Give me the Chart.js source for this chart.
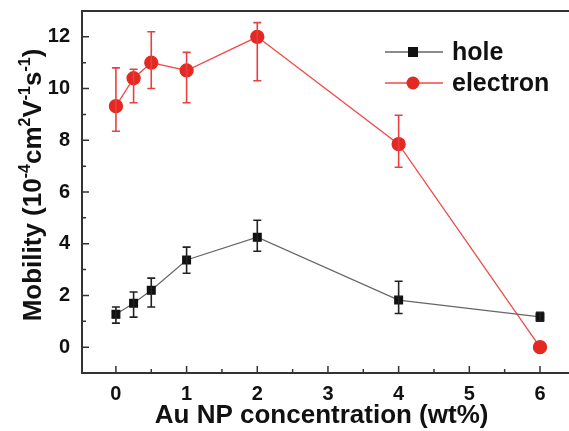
<!DOCTYPE html>
<html>
<head>
<meta charset="utf-8">
<script src="https://cdn.jsdelivr.net/npm/chart.js@4"></script>
<style>
  html, body { margin: 0; padding: 0; background: #fff; }
  #wrap { width: 569px; height: 431px; }
</style>
</head>
<body>
<div id="wrap"><canvas id="chart" width="569" height="431"></canvas></div>
<script>
// Au NP concentration (wt%)
const conc = [0, 0.25, 0.5, 1, 2, 4, 6];

const holeMobility = [1.27, 1.7, 2.2, 3.37, 4.25, 1.82, 1.17];
const holeHigh = [1.55, 2.13, 2.67, 3.87, 4.91, 2.55, 1.35];
const holeLow = [0.93, 1.16, 1.55, 2.86, 3.71, 1.3, 1.0];

const electronMobility = [9.32, 10.4, 11.0, 10.7, 12.0, 7.85, 0];
const electronHigh = [10.8, 10.75, 12.2, 11.4, 12.55, 8.97, 0];
const electronLow = [8.35, 9.45, 10.0, 9.45, 10.3, 6.96, 0];

const xTicks = [0, 1, 2, 3, 4, 5, 6];
const yTicks = [0, 2, 4, 6, 8, 10, 12];

// y title pieces: [text, superscript?]
const yTitle = [["Mobility (10", 0], ["-4", 1], ["cm", 0], ["2", 1], ["V", 0], ["-1", 1], ["s", 0], ["-1", 1], [")", 0]];

const FONT = "'Liberation Sans', Arial, sans-serif";

function points(ys) {
  return conc.map((x, i) => ({ x: x, y: ys[i] }));
}

const errorBars = {
  id: "errorBars",
  afterDatasetsDraw(chart) {
    const ctx = chart.ctx;
    const ys = chart.scales.y;
    const ranges = [[holeLow, holeHigh], [electronLow, electronHigh]];
    chart.data.datasets.forEach((ds, di) => {
      const meta = chart.getDatasetMeta(di);
      ctx.save();
      ctx.strokeStyle = ds.errorColor;
      ctx.lineWidth = 1.6;
      meta.data.forEach((pt, i) => {
        const lo = ranges[di][0][i], hi = ranges[di][1][i];
        if (hi === lo) return;
        const y1 = ys.getPixelForValue(hi), y2 = ys.getPixelForValue(lo);
        ctx.beginPath();
        ctx.moveTo(pt.x, y1); ctx.lineTo(pt.x, y2);
        ctx.moveTo(pt.x - 4, y1); ctx.lineTo(pt.x + 4, y1);
        ctx.moveTo(pt.x - 4, y2); ctx.lineTo(pt.x + 4, y2);
        ctx.stroke();
      });
      ctx.restore();
    });
  }
};

const frame = {
  id: "frame",
  afterDraw(chart) {
    const ctx = chart.ctx;
    const a = chart.chartArea;
    const xs = chart.scales.x, ys = chart.scales.y;
    ctx.save();
    ctx.strokeStyle = "#333";
    ctx.lineWidth = 2;
    ctx.strokeRect(a.left, a.top, a.right - a.left + 10, a.bottom - a.top);
    ctx.lineWidth = 1.5;
    ctx.beginPath();
    for (let v = 0; v <= 6; v += 0.5) {
      const px = xs.getPixelForValue(v);
      const len = Number.isInteger(v) ? 7 : 4;
      ctx.moveTo(px, a.bottom); ctx.lineTo(px, a.bottom - len);
    }
    for (let v = 0; v <= 12; v += 1) {
      const py = ys.getPixelForValue(v);
      const len = v % 2 === 0 ? 7 : 4;
      ctx.moveTo(a.left, py); ctx.lineTo(a.left + len, py);
    }
    ctx.stroke();

    // legend
    ctx.font = "bold 25px " + FONT;
    ctx.textBaseline = "middle";
    chart.data.datasets.forEach((ds, i) => {
      const y = 52 + i * 31;
      ctx.strokeStyle = ds.borderColor;
      ctx.lineWidth = 1.3;
      ctx.beginPath();
      ctx.moveTo(385, y); ctx.lineTo(443, y);
      ctx.stroke();
      ctx.fillStyle = ds.pointBackgroundColor;
      if (ds.pointStyle === "rect") {
        ctx.fillRect(408, y - 5, 10, 10);
      } else {
        ctx.beginPath();
        ctx.arc(413, y, 6.5, 0, Math.PI * 2);
        ctx.fill();
      }
      ctx.fillStyle = "#111";
      ctx.fillText(ds.label, 452, y + 1);
    });

    // y axis title with superscripts
    const main = "bold 26px " + FONT, sup = "bold 16px " + FONT;
    let total = 0;
    yTitle.forEach(([t, s]) => { ctx.font = s ? sup : main; total += ctx.measureText(t).width; });
    ctx.translate(41, 185);
    ctx.rotate(-Math.PI / 2);
    ctx.textBaseline = "alphabetic";
    ctx.textAlign = "left";
    let x = -total / 2;
    yTitle.forEach(([t, s]) => {
      ctx.font = s ? sup : main;
      ctx.fillText(t, x, s ? -11 : 0);
      x += ctx.measureText(t).width;
    });
    ctx.restore();
  }
};

new Chart(document.getElementById("chart"), {
  type: "line",
  data: {
    datasets: [
      {
        label: "hole",
        data: points(holeMobility),
        borderColor: "#666",
        borderWidth: 1.2,
        pointStyle: "rect",
        pointRadius: 5.5,
        pointBackgroundColor: "#111",
        pointBorderColor: "#111",
        errorColor: "#222"
      },
      {
        label: "electron",
        data: points(electronMobility),
        borderColor: "#f24a4a",
        borderWidth: 1.3,
        pointStyle: "circle",
        pointRadius: 6.5,
        pointBackgroundColor: "#e32a22",
        pointBorderColor: "#e32a22",
        errorColor: "#e84040"
      }
    ]
  },
  options: {
    responsive: false,
    animation: false,
    layout: { padding: { top: 11, right: 0, left: 0, bottom: 0 } },
    plugins: { legend: { display: false }, tooltip: { enabled: false } },
    scales: {
      x: {
        type: "linear",
        min: -0.48,
        max: 6.3,
        afterBuildTicks: s => { s.ticks = xTicks.map(v => ({ value: v })); },
        afterFit: s => { s.height = 58; },
        grid: { display: false },
        border: { display: false },
        ticks: { color: "#111", padding: 1, font: { family: FONT, size: 20, weight: "bold" } },
        title: {
          display: true,
          text: "Au NP concentration (wt%)",
          color: "#111",
          padding: { top: 2, bottom: 0 },
          font: { family: FONT, size: 26, weight: "bold" }
        }
      },
      y: {
        min: -1,
        max: 13,
        afterBuildTicks: s => { s.ticks = yTicks.map(v => ({ value: v })); },
        afterFit: s => { s.width = 82; s.paddingTop = 0; s.paddingBottom = 0; },
        grid: { display: false },
        border: { display: false },
        ticks: { color: "#111", padding: 4, font: { family: FONT, size: 20, weight: "bold" } },
        title: { display: false }
      }
    }
  },
  plugins: [errorBars, frame]
});
</script>
</body>
</html>
